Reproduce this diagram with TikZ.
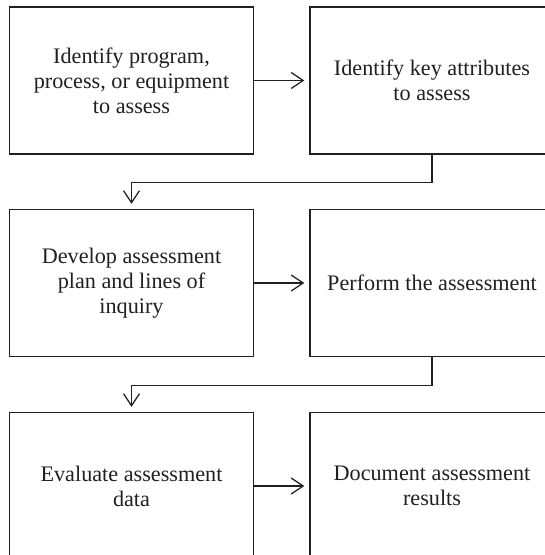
\documentclass[tikz,border=0pt]{standalone}
\usepackage{fontspec}
\setmainfont{Liberation Serif}
\usetikzlibrary{arrows.meta}
\definecolor{ink}{HTML}{231F20}
\begin{document}
\begin{tikzpicture}[x=1pt,y=1pt,
  stepbox/.style={draw=ink, line width=1.3pt, minimum width=244pt,
    minimum height=147pt, inner sep=0pt, align=center, text=ink,
    font=\fontsize{22.2pt}{25pt}\selectfont},
  flow/.style={draw=ink, line width=1.3pt,
    -{Straight Barb[length=12pt,width=16pt,line width=1.3pt]},
    shorten >=5pt}]
\useasboundingbox (0,0) rectangle (545,-555);
\clip (0,0) rectangle (545,-555);

% row 1
\node[stepbox] (identify) at (131.5,-80.5) {Identify program,\\process, or equipment\\to assess};
\node[stepbox] (attrs)    at (432,-80.5)   {Identify key attributes\\to assess};
% row 2
\node[stepbox] (plan)     at (131.5,-283)  {Develop assessment\\plan and lines of\\inquiry};
\node[stepbox] (perform)  at (432,-283)    {Perform the assessment};
% row 3
\node[stepbox] (evaluate) at (131.5,-486)  {Evaluate assessment\\data};
\node[stepbox] (document) at (432,-486)    {Document assessment\\results};

% connectors
\draw[flow] (identify.east) -- (attrs.west);
\draw[flow] (attrs.south) -- ++(0,-28) -| (plan.north);
\draw[flow] (plan.east) -- (perform.west);
\draw[flow] (perform.south) -- ++(0,-28) -| (evaluate.north);
\draw[flow] (evaluate.east) -- (document.west);
\end{tikzpicture}
\end{document}
